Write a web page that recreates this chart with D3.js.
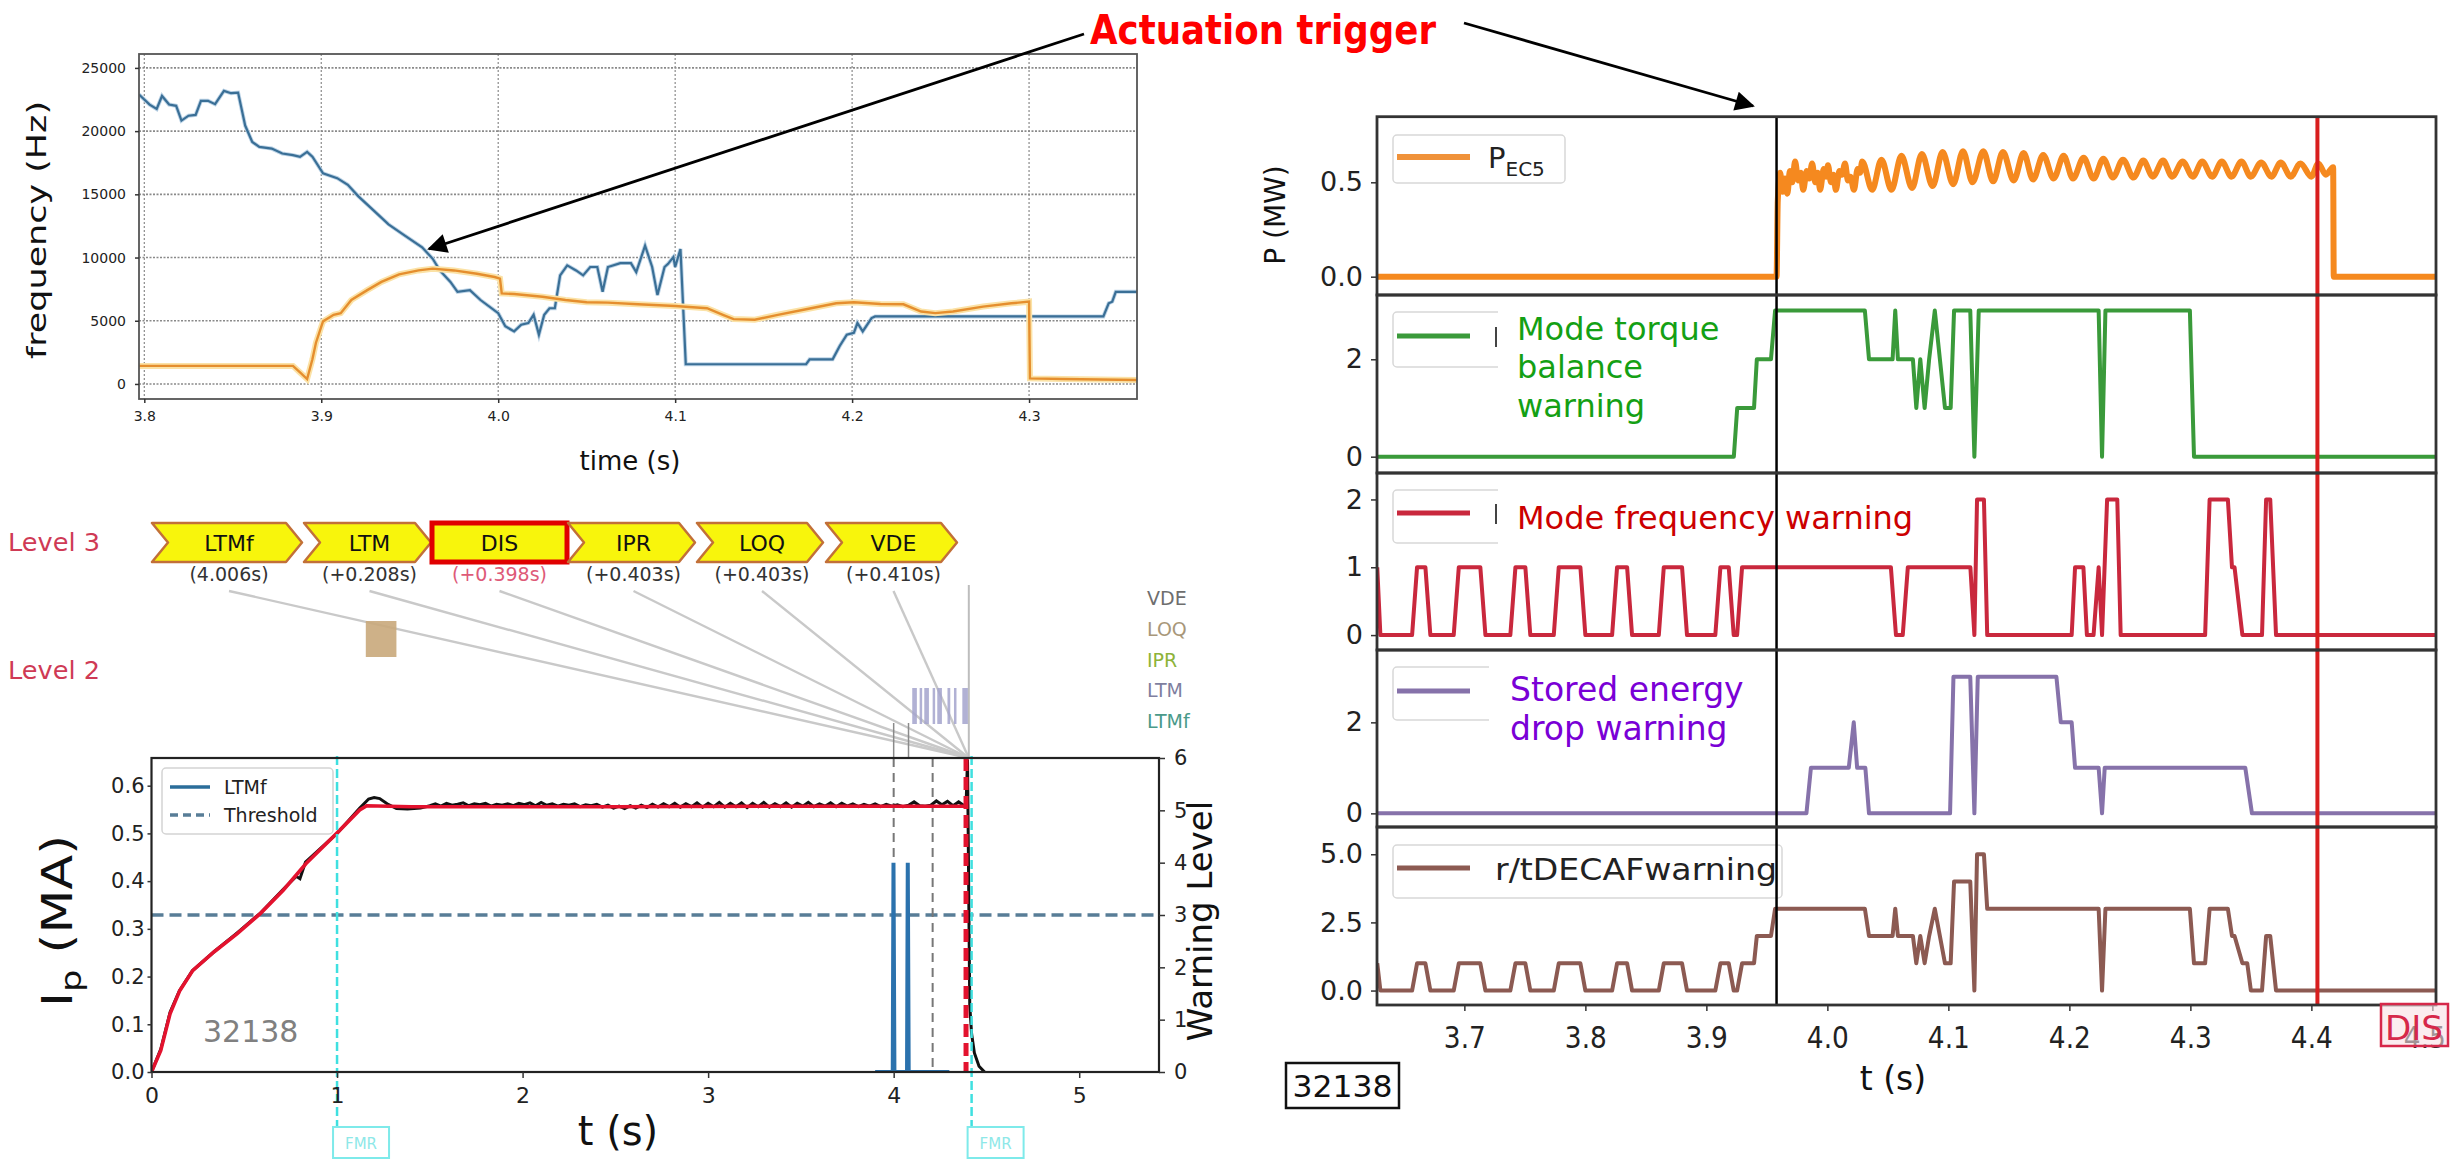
<!DOCTYPE html>
<html><head><meta charset="utf-8">
<script src="https://cdn.jsdelivr.net/npm/d3@7"></script>
<style>body{margin:0;background:#fff}svg text{font-family:'DejaVu Sans',sans-serif}</style>
</head><body><svg id="c" width="2453" height="1160"></svg>
<script>
// ---------------- data ----------------
// mode frequency traces (time s, frequency Hz)
const freqTicksX = [3.8, 3.9, 4.0, 4.1, 4.2, 4.3];
const freqTicksY = [0, 5000, 10000, 15000, 20000, 25000];
const modeFreqBlue = [[3.797,22900],[3.803,22100],[3.807,21750],[3.810,22780],[3.814,22100],[3.818,22000],[3.821,20830],[3.825,21220],[3.829,21280],[3.832,22400],[3.836,22400],[3.840,22130],[3.845,23180],[3.849,23000],[3.853,23050],[3.857,20440],[3.861,19140],[3.865,18750],[3.872,18620],[3.878,18230],[3.884,18100],[3.888,17970],[3.892,18360],[3.895,17970],[3.901,16660],[3.909,16280],[3.915,15750],[3.921,14840],[3.930,13670],[3.938,12630],[3.946,11850],[3.957,10810],[3.963,9900],[3.967,8980],[3.973,8070],[3.977,7290],[3.984,7420],[3.990,6640],[4.000,5600],[4.004,4560],[4.009,4160],[4.013,4690],[4.017,4820],[4.020,5470],[4.023,3900],[4.026,5470],[4.029,5990],[4.032,5990],[4.035,8590],[4.039,9380],[4.044,8980],[4.048,8590],[4.052,9250],[4.056,9250],[4.059,7290],[4.062,9250],[4.069,9560],[4.075,9560],[4.078,8850],[4.083,10940],[4.087,9250],[4.090,7030],[4.094,9250],[4.096,9500],[4.099,10030],[4.100,9250],[4.103,10680],[4.106,1560],[4.108,1560],[4.174,1560],[4.176,1950],[4.189,1950],[4.193,3000],[4.197,3900],[4.201,4040],[4.203,4820],[4.206,4160],[4.211,5210],[4.213,5340],[4.342,5340],[4.345,6380],[4.347,6510],[4.349,7290],[4.361,7290]];
const modeFreqOrange = [[3.797,1430],[3.884,1430],[3.888,910],[3.892,390],[3.895,1950],[3.897,3260],[3.901,4950],[3.907,5470],[3.911,5600],[3.917,6640],[3.926,7420],[3.934,8070],[3.944,8670],[3.955,8980],[3.963,9120],[3.975,8980],[3.988,8720],[3.998,8460],[4.001,8330],[4.002,7160],[4.009,7110],[4.025,6900],[4.038,6640],[4.050,6460],[4.062,6430],[4.079,6300],[4.100,6170],[4.118,5990],[4.127,5470],[4.133,5130],[4.145,5080],[4.158,5470],[4.174,5910],[4.191,6380],[4.201,6460],[4.216,6330],[4.229,6300],[4.239,5730],[4.247,5600],[4.257,5730],[4.274,6120],[4.290,6380],[4.300,6510],[4.3005,440],[4.319,390],[4.361,310]];

// plasma current (MA) over the whole discharge
const ipTicksX = [0, 1, 2, 3, 4, 5];
const ipTicksY = [0, 0.1, 0.2, 0.3, 0.4, 0.5, 0.6];
const warnTicks = [0, 1, 2, 3, 4, 5, 6];
const ipReference = [[0,0],[0.05,0.045],[0.1,0.122],[0.153,0.171],[0.223,0.213],[0.338,0.252],[0.462,0.29],[0.586,0.332],[0.71,0.381],[0.833,0.437],[0.998,0.5],[1.122,0.549],[1.16,0.558],[1.4,0.556],[2.5,0.556],[3.5,0.557],[4.39,0.557]];
const ipRamp = [[0,0],[0.05,0.048],[0.1,0.125],[0.15,0.17],[0.22,0.212],[0.34,0.253],[0.46,0.291],[0.59,0.334],[0.71,0.383],[0.78,0.41],[0.80,0.405],[0.83,0.44],[1.0,0.5],[1.12,0.552],[1.17,0.572],[1.2,0.575],[1.23,0.573],[1.27,0.562],[1.32,0.552],[1.38,0.551],[1.45,0.553]];
const ipFlatStart = 1.5, ipFlatStep = 0.03;
const ipFlat = [.558,.562,.557,.563,.559,.561,.564,.558,.562,.560,.563,.557,.561,.559,.562,.558,.563,.560,.564,.558,.565,.559,.562,.557,.561,.559,.562,.556,.560,.558,.561,.555,.559,.553,.557,.552,.558,.553,.559,.554,.561,.555,.562,.556,.563,.555,.562,.556,.564,.555,.563,.556,.565,.555,.563,.556,.564,.554,.563,.556,.565,.555,.562,.556,.564,.555,.563,.557,.565,.556,.562,.557,.564,.556,.563,.557,.562,.556,.561,.557,.562,.556,.561,.557,.560,.556,.559,.566,.558,.557,.559,.568,.560,.567,.558,.566,.558];
const ipQuench = [[4.39,0.558],[4.398,0.655],[4.404,0.40],[4.41,0.14],[4.42,0.08],[4.435,0.04],[4.46,0.012],[4.49,0]];
const ltmfWarning = [[3.9,0],[3.995,0],[3.999,4],[4.004,0],[4.072,0],[4.076,4],[4.081,0],[4.3,0]];
const thresholdLevel = 3;
const fmrTimes = [1.0, 4.42];
const alarmTimes = [4.0, 4.21];
const disruptionTime = 4.39;
const convergeTime = 4.405;

// level-3 alarm sequence
const alarmNames = ["LTMf", "LTM", "DIS", "IPR", "LOQ", "VDE"];
const alarmDelays = ["(4.006s)", "(+0.208s)", "(+0.398s)", "(+0.403s)", "(+0.403s)", "(+0.410s)"];
const rowNames = ["VDE", "LOQ", "IPR", "LTM", "LTMf"];
const rowColors = ["#6e6e6e", "#a8977a", "#8db33a", "#7f7f9f", "#4a9a8a"];
const loqLevel2 = [[1.155, 1.32]];
const ltmLevel2 = [[4.10,4.125],[4.14,4.15],[4.165,4.19],[4.21,4.222],[4.235,4.26],[4.29,4.305],[4.325,4.335],[4.37,4.40]];
const ltmfLevel2 = [4.0, 4.08];

// actuator and warning signals, zoomed window
const rTicksX = [3.7, 3.8, 3.9, 4.0, 4.1, 4.2, 4.3, 4.4, 4.5];
const pecTicks = [0, 0.5];
const torqueTicks = [0, 2];
const freqWarnTicks = [0, 1, 2];
const energyTicks = [0, 2];
const decafTicks = [0, 2.5, 5];
const triggerTime = 3.958;
const disTime = 4.405;
const pEC5 = [[3.628,0],[3.958,0],[3.959,0.40],[3.961,0.55],[3.963,0.45],[3.965,0.52],[3.967,0.44],[3.969,0.56],[3.971,0.50],[3.9733,0.61],[3.976,0.51],[3.978,0.55],[3.980,0.46],[3.983,0.56],[3.985,0.52],[3.9874,0.60],[3.990,0.50],[3.992,0.55],[3.994,0.46],[3.997,0.57],[3.999,0.53],[4.0005,0.59],[4.003,0.50],[4.005,0.54],[4.007,0.46],[4.010,0.56],[4.012,0.54],[4.0146,0.60],[4.017,0.51],[4.019,0.53],[4.022,0.46],[4.025,0.57],[4.027,0.55],[4.0288,0.61],[4.037,0.46],[4.0447,0.62],[4.053,0.46],[4.0612,0.64],[4.070,0.47],[4.0781,0.65],[4.087,0.48],[4.0952,0.66],[4.104,0.49],[4.1121,0.665],[4.120,0.50],[4.1289,0.665],[4.137,0.505],[4.1451,0.66],[4.154,0.51],[4.1622,0.655],[4.170,0.515],[4.1784,0.645],[4.187,0.52],[4.1953,0.64],[4.203,0.52],[4.2118,0.63],[4.220,0.52],[4.2281,0.625],[4.236,0.525],[4.2443,0.62],[4.253,0.525],[4.2611,0.615],[4.269,0.53],[4.2774,0.615],[4.285,0.53],[4.2936,0.61],[4.302,0.53],[4.3098,0.61],[4.318,0.53],[4.326,0.61],[4.334,0.53],[4.3422,0.61],[4.350,0.53],[4.3585,0.605],[4.367,0.53],[4.3747,0.605],[4.383,0.53],[4.391,0.60],[4.40,0.53],[4.4057,0.60],[4.412,0.54],[4.418,0.58],[4.4185,0],[4.503,0]];
const torqueWarn = [[3.628,0],[3.9227,0],[3.9255,1],[3.9394,1],[3.9417,2],[3.9534,2],[3.9568,3],[4.031,3],[4.0344,2],[4.0539,2],[4.0561,3],[4.0583,2],[4.0707,2],[4.0735,1],[4.0768,2],[4.0804,1],[4.0841,2],[4.0888,3],[4.093,2],[4.0972,1],[4.1019,1],[4.1047,3],[4.1181,3],[4.1215,0],[4.1251,3],[4.2242,3],[4.227,0],[4.2298,3],[4.2996,3],[4.303,0],[4.503,0]];
const freqWarn = [[3.628,1],[3.6306,0],[3.6568,0],[3.6609,1],[3.6678,1],[3.6719,0],[3.6912,0],[3.6954,1],[3.7132,1],[3.7174,0],[3.738,0],[3.7422,1],[3.7504,1],[3.7545,0],[3.7739,0],[3.778,1],[3.7959,1],[3.80,0],[3.8221,0],[3.8262,1],[3.8345,1],[3.8386,0],[3.8607,0],[3.8648,1],[3.8799,1],[3.884,0],[3.9074,0],[3.9116,1],[3.9185,1],[3.9226,0],[3.9254,0],[3.9295,1],[4.0525,1],[4.0567,0],[4.0623,0],[4.0665,1],[4.1182,1],[4.1215,0],[4.1237,2],[4.1294,2],[4.1321,0],[4.2019,0],[4.2047,1],[4.2116,1],[4.2145,0],[4.22,0],[4.2242,1],[4.227,0],[4.2312,2],[4.2396,2],[4.2424,0],[4.3122,0],[4.3159,2],[4.331,2],[4.3344,1],[4.3365,1],[4.343,0],[4.3592,0],[4.3626,2],[4.366,2],[4.3708,0],[4.503,0]];
const energyWarn = [[3.628,0],[3.9827,0],[3.9864,1],[4.0177,1],[4.0218,2],[4.0246,1],[4.0314,1],[4.0344,0],[4.1014,0],[4.1042,3],[4.1181,3],[4.1215,0],[4.1243,3],[4.1893,3],[4.1929,2],[4.2019,2],[4.2047,1],[4.2242,1],[4.227,0],[4.2292,1],[4.3454,1],[4.3509,0],[4.503,0]];
const decafWarn = [[3.628,1],[3.6306,0],[3.6568,0],[3.6609,1],[3.6678,1],[3.6719,0],[3.6912,0],[3.6954,1],[3.7132,1],[3.7174,0],[3.738,0],[3.7422,1],[3.7504,1],[3.7545,0],[3.7739,0],[3.778,1],[3.7959,1],[3.80,0],[3.8221,0],[3.8262,1],[3.8345,1],[3.8386,0],[3.8607,0],[3.8648,1],[3.8799,1],[3.884,0],[3.9074,0],[3.9116,1],[3.9185,1],[3.9226,0],[3.9254,0],[3.9295,1],[3.9394,1],[3.9417,2],[3.9534,2],[3.9568,3],[4.031,3],[4.0344,2],[4.0539,2],[4.0561,3],[4.0583,2],[4.0707,2],[4.0735,1],[4.0768,2],[4.0804,1],[4.0841,2],[4.0888,3],[4.093,2],[4.0972,1],[4.1019,1],[4.1047,4],[4.1181,4],[4.1215,0],[4.1237,5],[4.1294,5],[4.1321,3],[4.2242,3],[4.227,0],[4.2298,3],[4.2996,3],[4.303,1],[4.3122,1],[4.3159,3],[4.331,3],[4.3344,2],[4.3365,2],[4.343,1],[4.347,1],[4.35,0],[4.3592,0],[4.3626,2],[4.366,2],[4.3708,0],[4.503,0]];

// ---------------- drawing ----------------
const svg = d3.select("#c");
const defs = svg.append("defs");
defs.append("marker").attr("id","ah").attr("viewBox","0 0 10 10").attr("refX",9).attr("refY",5)
  .attr("markerWidth",9).attr("markerHeight",7).attr("markerUnits","strokeWidth").attr("orient","auto")
  .append("path").attr("d","M0,0 L10,5 L0,10 Z").attr("fill","#000");
function clip(id, x, y, w, h){ defs.append("clipPath").attr("id",id).append("rect").attr("x",x).attr("y",y).attr("width",w).attr("height",h); return "url(#"+id+")"; }
function styleAxis(g, size, color){
  g.attr("font-family","DejaVu Sans").attr("font-size",size);
  g.select(".domain").remove();
  g.selectAll(".tick line").attr("stroke","#333").attr("stroke-width",1.5);
  g.selectAll(".tick text").attr("fill",color||"#222");
}
function txt(x,y,s,o){
  o=o||{};
  const t=svg.append("text").attr("x",x).attr("y",y).text(s)
    .attr("font-size",o.size||16).attr("fill",o.fill||"#222")
    .attr("text-anchor",o.anchor||"start");
  if(o.family) t.attr("font-family",o.family);
  if(o.weight) t.attr("font-weight",o.weight);
  if(o.len) t.attr("textLength",o.len).attr("lengthAdjust","spacingAndGlyphs");
  if(o.rot) t.attr("transform",`rotate(${o.rot},${x},${y})`);
  return t;
}

// ===== top-left: mode frequencies =====
const fX = d3.scaleLinear().domain([3.797,4.361]).range([139,1137]);
const fY = d3.scaleLinear().domain([-1190,26100]).range([399,54]);
const gF = svg.append("g");
freqTicksX.forEach(v=>gF.append("line").attr("x1",fX(v)).attr("x2",fX(v)).attr("y1",54).attr("y2",399)
  .attr("stroke","#8a8a8a").attr("stroke-width",1.2).attr("stroke-dasharray","2,2"));
freqTicksY.forEach(v=>gF.append("line").attr("y1",fY(v)).attr("y2",fY(v)).attr("x1",139).attr("x2",1137)
  .attr("stroke","#8a8a8a").attr("stroke-width",1.6).attr("stroke-dasharray","2,1.5"));
const fLine = d3.line().x(d=>fX(d[0])).y(d=>fY(d[1]));
const fClip = clip("cf",139,54,998,345);
gF.append("path").datum(modeFreqBlue).attr("d",fLine).attr("fill","none").attr("stroke","#bcd3e6").attr("stroke-width",4).attr("clip-path",fClip);
gF.append("path").datum(modeFreqBlue).attr("d",fLine).attr("fill","none").attr("stroke","#3a6f96").attr("stroke-width",2.2).attr("clip-path",fClip);
gF.append("path").datum(modeFreqOrange).attr("d",fLine).attr("fill","none").attr("stroke","#fbe2a6").attr("stroke-width",6).attr("clip-path",fClip);
gF.append("path").datum(modeFreqOrange).attr("d",fLine).attr("fill","none").attr("stroke","#e58e2e").attr("stroke-width",2.4).attr("clip-path",fClip);
gF.append("rect").attr("x",139).attr("y",54).attr("width",998).attr("height",345).attr("fill","none").attr("stroke","#555").attr("stroke-width",1.8);
gF.append("g").attr("transform","translate(0,399)").call(d3.axisBottom(fX).tickValues(freqTicksX).tickFormat(d3.format(".1f")).tickSize(4).tickPadding(8)).call(g=>styleAxis(g,14));
gF.append("g").attr("transform","translate(139,0)").call(d3.axisLeft(fY).tickValues(freqTicksY).tickFormat(d3.format("d")).tickSize(4).tickPadding(9)).call(g=>styleAxis(g,14));
txt(46,230,"frequency (Hz)",{size:27,rot:-90,anchor:"middle",len:258,fill:"#111"});
txt(630,470,"time (s)",{size:26,anchor:"middle",fill:"#111"});

// ===== bottom-left: discharge overview =====
const bX = d3.scaleLinear().domain([0,5.43]).range([151.5,1159]);
const bYL = d3.scaleLinear().domain([0,0.658]).range([1072,758]);
const bYR = d3.scaleLinear().domain([0,6]).range([1072,758]);
const gB = svg.append("g");
const bClip = clip("cb",151.5,758,1007.5,314);

// alarm chevrons
const chevX = [152,304,432,568,697,826], chevW = [150,127,135,127,126,131];
const cy0 = 523, cy1 = 562, cym = (cy0+cy1)/2, notch = 16;
alarmNames.forEach((n,i)=>{
  const x0=chevX[i], x1=x0+chevW[i];
  if(n==="DIS"){
    gB.append("rect").attr("x",x0).attr("y",cy0).attr("width",chevW[i]).attr("height",cy1-cy0)
      .attr("fill","#f8f50c").attr("stroke","#e00000").attr("stroke-width",5);
  } else {
    gB.append("path").attr("d",`M${x0},${cy0}L${x1-notch},${cy0}L${x1},${cym}L${x1-notch},${cy1}L${x0},${cy1}L${x0+notch},${cym}Z`)
      .attr("fill","#f8f50c").attr("stroke","#c27038").attr("stroke-width",2.5).attr("stroke-linejoin","round");
  }
  const cx = n==="DIS" ? x0+chevW[i]/2 : x0+chevW[i]/2+2;
  txt(cx,cym+8,n,{size:22,anchor:"middle",fill:"#111"});
  txt(cx,581,alarmDelays[i],{size:19,anchor:"middle",fill:n==="DIS"?"#de5a78":"#333"});
  // link from the alarm to its time on the discharge axis
  gB.append("line").attr("x1",cx).attr("y1",591).attr("x2",bX(convergeTime)).attr("y2",758)
    .attr("stroke","#c9c9c9").attr("stroke-width",2.4);
});
gB.append("line").attr("x1",bX(convergeTime)).attr("x2",bX(convergeTime)).attr("y1",585).attr("y2",758).attr("stroke","#bdbdbd").attr("stroke-width",2);
txt(8,551,"Level 3",{size:24,fill:"#cf3a55",len:92});
txt(8,679,"Level 2",{size:24,fill:"#cf3a55",len:92});
const rowY = [598,629,660,690,721];
rowNames.forEach((n,i)=>txt(1147,rowY[i]+7,n,{size:19,fill:rowColors[i]}));
loqLevel2.forEach(d=>gB.append("rect").attr("x",bX(d[0])).attr("width",bX(d[1])-bX(d[0])).attr("y",621).attr("height",36).attr("fill","#c9a97b").attr("opacity",0.9));
ltmLevel2.forEach(d=>gB.append("rect").attr("x",bX(d[0])).attr("width",Math.max(2.5,bX(d[1])-bX(d[0]))).attr("y",688).attr("height",36).attr("fill","#a3a3cc").attr("opacity",0.85));
ltmfLevel2.forEach(t=>gB.append("line").attr("x1",bX(t)).attr("x2",bX(t)).attr("y1",723).attr("y2",758).attr("stroke","#8a8a8a").attr("stroke-width",1.5));

// reference lines
gB.append("line").attr("x1",151.5).attr("x2",1159).attr("y1",bYR(thresholdLevel)).attr("y2",bYR(thresholdLevel))
  .attr("stroke","#587d97").attr("stroke-width",3.5).attr("stroke-dasharray","12,6");
alarmTimes.forEach(t=>gB.append("line").attr("x1",bX(t)).attr("x2",bX(t)).attr("y1",758).attr("y2",1072)
  .attr("stroke","#777").attr("stroke-width",2).attr("stroke-dasharray","9,6"));
// current traces
const bLine = d3.line().x(d=>bX(d[0])).y(d=>bYL(d[1]));
const ipMeasured = ipRamp.concat(ipFlat.map((v,i)=>[ipFlatStart+i*ipFlatStep, v])).concat(ipQuench);
gB.append("path").datum(ipMeasured).attr("d",bLine).attr("fill","none").attr("stroke","#111").attr("stroke-width",3).attr("clip-path",bClip);
gB.append("path").datum(ipReference).attr("d",bLine).attr("fill","none").attr("stroke","#e3122e").attr("stroke-width",3.6).attr("clip-path",bClip);
gB.append("line").attr("x1",bX(disruptionTime)).attr("x2",bX(disruptionTime)).attr("y1",758).attr("y2",1072)
  .attr("stroke","#e3122e").attr("stroke-width",5).attr("stroke-dasharray","13,6");
const wLine = d3.line().x(d=>bX(d[0])).y(d=>bYR(d[1]));
gB.append("path").datum(ltmfWarning).attr("d",wLine).attr("fill","none").attr("stroke","#2b72ad").attr("stroke-width",4).attr("clip-path",bClip);
fmrTimes.forEach(t=>{
  gB.append("line").attr("x1",bX(t)).attr("x2",bX(t)).attr("y1",756).attr("y2",1127)
    .attr("stroke","#3fe0e0").attr("stroke-width",2.5).attr("stroke-dasharray","9,4");
  gB.append("rect").attr("x",bX(t)-4).attr("y",1127).attr("width",56).attr("height",31).attr("fill","#fff").attr("stroke","#7eeaea").attr("stroke-width",2);
  txt(bX(t)+24,1149,"FMR",{size:15,anchor:"middle",fill:"#8ee8e8"});
});
gB.append("rect").attr("x",151.5).attr("y",758).attr("width",1007.5).attr("height",314).attr("fill","none").attr("stroke","#222").attr("stroke-width",2.2);
gB.append("g").attr("transform","translate(0,1072)").call(d3.axisBottom(bX).tickValues(ipTicksX).tickFormat(d3.format("d")).tickSize(6).tickPadding(9)).call(g=>styleAxis(g,22));
gB.append("g").attr("transform","translate(151.5,0)").call(d3.axisLeft(bYL).tickValues(ipTicksY).tickFormat(d3.format(".1f")).tickSize(4).tickPadding(3)).call(g=>styleAxis(g,21));
gB.append("g").attr("transform","translate(1159,0)").call(d3.axisRight(bYR).tickValues(warnTicks).tickFormat(d3.format("d")).tickSize(6).tickPadding(9)).call(g=>styleAxis(g,21));
// legend
gB.append("rect").attr("x",162).attr("y",768).attr("width",171).attr("height",66).attr("rx",4).attr("fill","#fff").attr("stroke","#d4d4d4").attr("stroke-width",1.5);
gB.append("line").attr("x1",170).attr("x2",210).attr("y1",787).attr("y2",787).attr("stroke","#2b6d9a").attr("stroke-width",3.5);
gB.append("line").attr("x1",170).attr("x2",210).attr("y1",815).attr("y2",815).attr("stroke","#587d97").attr("stroke-width",3.5).attr("stroke-dasharray","8,5");
txt(224,794,"LTMf",{size:19,fill:"#222"});
txt(224,822,"Threshold",{size:19,fill:"#222"});
txt(203,1042,"32138",{size:30,fill:"#808080"});
const ipLab = svg.append("text").attr("transform","translate(72,921) rotate(-90)").attr("text-anchor","middle").attr("font-size",42).attr("fill","#111")
  .attr("textLength",172).attr("lengthAdjust","spacingAndGlyphs");
ipLab.append("tspan").text("I");
ipLab.append("tspan").text("p").attr("font-size",29).attr("dy",9);
ipLab.append("tspan").text(" (MA)").attr("dy",-9);
txt(1212,921,"Warning Level",{size:34,rot:-90,anchor:"middle",fill:"#111"});
txt(618,1145,"t (s)",{size:40,anchor:"middle",fill:"#111"});

// ===== right: actuation and warnings =====
const rX = d3.scaleLinear().domain([3.6278,4.503]).range([1377,2436]);
const panels = [
  {y0:116.7,y1:295,dom:[-0.097,0.8475],ticks:pecTicks,fmt:".1f",data:pEC5,color:"#f5891f",w:6},
  {y0:295,y1:473,dom:[-0.335,3.32],ticks:torqueTicks,fmt:"d",data:torqueWarn,color:"#3a9a3a",w:4},
  {y0:473,y1:650,dom:[-0.22,2.39],ticks:freqWarnTicks,fmt:"d",data:freqWarn,color:"#c9283d",w:4},
  {y0:650,y1:827,dom:[-0.30,3.59],ticks:energyTicks,fmt:"d",data:energyWarn,color:"#8672aa",w:4},
  {y0:827,y1:1005,dom:[-0.53,6.0],ticks:decafTicks,fmt:".1f",data:decafWarn,color:"#8c5a52",w:4}
];
const gR = svg.append("g");
panels.forEach((p,i)=>{
  const y = d3.scaleLinear().domain(p.dom).range([p.y1,p.y0]);
  const cp = clip("cr"+i,1377,p.y0,1059,p.y1-p.y0);
  const line = d3.line().x(d=>rX(d[0])).y(d=>y(d[1]));
  if(i===0) line.curve(d3.curveMonotoneX);
  gR.append("path").datum(p.data).attr("d",line).attr("fill","none").attr("stroke",p.color).attr("stroke-width",p.w)
    .attr("stroke-linejoin","round").attr("clip-path",cp);
  gR.append("g").attr("transform","translate(1377,0)").call(d3.axisLeft(y).tickValues(p.ticks).tickFormat(d3.format(p.fmt)).tickSize(6).tickPadding(8)).call(g=>styleAxis(g,27,"#222"));
});
// legends
gR.append("rect").attr("x",1393).attr("y",135).attr("width",172).attr("height",48).attr("rx",4).attr("fill","#fff").attr("stroke","#d8d8d8").attr("stroke-width",1.5);
gR.append("line").attr("x1",1397).attr("x2",1470).attr("y1",157).attr("y2",157).attr("stroke","#f0923a").attr("stroke-width",6);
const pLab = gR.append("text").attr("x",1488).attr("y",168).attr("font-size",29).attr("fill","#222");
pLab.append("tspan").text("P");
pLab.append("tspan").text("EC5").attr("font-size",20).attr("dy",8);
[[312,367,336,"#3a9a3a"],[490,543,513,"#c9283d"]].forEach(d=>{
  gR.append("rect").attr("x",1393).attr("y",d[0]).attr("width",140).attr("height",d[1]-d[0]).attr("rx",4).attr("fill","#fff").attr("stroke","#d8d8d8").attr("stroke-width",1.5);
  gR.append("line").attr("x1",1397).attr("x2",1470).attr("y1",d[2]).attr("y2",d[2]).attr("stroke",d[3]).attr("stroke-width",5);
  gR.append("line").attr("x1",1496).attr("x2",1496).attr("y1",d[2]-9).attr("y2",d[2]+11).attr("stroke","#444").attr("stroke-width",2);
  gR.append("rect").attr("x",1498).attr("y",d[0]-3).attr("width",60).attr("height",d[1]-d[0]+6).attr("fill","#fff");
});
gR.append("rect").attr("x",1393).attr("y",667).attr("width",130).attr("height",53).attr("rx",4).attr("fill","#fff").attr("stroke","#d8d8d8").attr("stroke-width",1.5);
gR.append("line").attr("x1",1397).attr("x2",1470).attr("y1",691).attr("y2",691).attr("stroke","#8672aa").attr("stroke-width",5);
gR.append("rect").attr("x",1489).attr("y",664).attr("width",40).attr("height",60).attr("fill","#fff");
gR.append("rect").attr("x",1393).attr("y",845).attr("width",389).attr("height",53).attr("rx",4).attr("fill","#fff").attr("stroke","#d8d8d8").attr("stroke-width",1.5);
gR.append("line").attr("x1",1397).attr("x2",1470).attr("y1",868).attr("y2",868).attr("stroke","#8c5a52").attr("stroke-width",5);
txt(1495,880,"r/tDECAFwarning",{size:30,len:282,fill:"#222"});
// annotations
const AR = "Liberation Sans, Arial, sans-serif";
txt(1517,340,"Mode torque",{size:32,family:AR,fill:"#14a014"});
txt(1517,378,"balance",{size:32,family:AR,fill:"#14a014"});
txt(1517,417,"warning",{size:32,family:AR,fill:"#14a014"});
txt(1517,529,"Mode frequency warning",{size:32,family:AR,fill:"#cc0000"});
txt(1510,701,"Stored energy",{size:33,family:AR,fill:"#7a00d6"});
txt(1510,740,"drop warning",{size:33,family:AR,fill:"#7a00d6"});
// markers
gR.append("line").attr("x1",rX(triggerTime)).attr("x2",rX(triggerTime)).attr("y1",116.7).attr("y2",1005).attr("stroke","#000").attr("stroke-width",2.5);
gR.append("line").attr("x1",rX(disTime)).attr("x2",rX(disTime)).attr("y1",116.7).attr("y2",1005).attr("stroke","#d81e1e").attr("stroke-width",4);
// frames
panels.forEach(p=>gR.append("rect").attr("x",1377).attr("y",p.y0).attr("width",1059).attr("height",p.y1-p.y0).attr("fill","none").attr("stroke","#333").attr("stroke-width",2.8));
const rAxis = gR.append("g").attr("transform","translate(0,1005)").call(d3.axisBottom(rX).tickValues(rTicksX).tickFormat(d3.format(".1f")).tickSize(6).tickPadding(16)).call(g=>styleAxis(g,30,"#222"));
rAxis.selectAll(".tick text").attr("textLength",42).attr("lengthAdjust","spacingAndGlyphs");
rAxis.selectAll(".tick text").filter(d=>d===4.5).attr("dx",-8);
gR.append("rect").attr("x",2381).attr("y",1004).attr("width",67).attr("height",42).attr("fill","#f9dfe4").attr("fill-opacity",0.6).attr("stroke","#d6284a").attr("stroke-width",2.5);
txt(2414,1040,"DIS",{size:34,anchor:"middle",fill:"#d6284a",len:58});
txt(1285,215,"P (MW)",{size:28,rot:-90,anchor:"middle",fill:"#111"});
txt(1893,1090,"t (s)",{size:33,anchor:"middle",fill:"#111"});
gR.append("rect").attr("x",1286).attr("y",1063).attr("width",113).attr("height",45).attr("fill","#fff").attr("stroke","#111").attr("stroke-width",2.5);
txt(1342.5,1097,"32138",{size:31,anchor:"middle",fill:"#111",len:100});

// ===== actuation trigger callout =====
txt(1263,44,"Actuation trigger",{size:40,family:AR,weight:"bold",anchor:"middle",fill:"#ff0000",len:346});
svg.append("line").attr("x1",1084).attr("y1",34).attr("x2",429).attr("y2",249).attr("stroke","#000").attr("stroke-width",2.8).attr("marker-end","url(#ah)");
svg.append("line").attr("x1",1464).attr("y1",23).attr("x2",1753).attr("y2",106).attr("stroke","#000").attr("stroke-width",2.8).attr("marker-end","url(#ah)");
</script></body></html>
